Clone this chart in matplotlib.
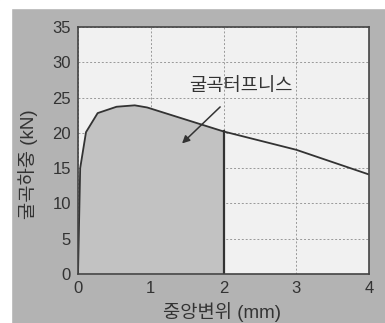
import matplotlib
matplotlib.use("Agg")
from matplotlib import pyplot as plt

plt.rcParams['font.family'] = ['Liberation Sans', 'Noto Sans CJK KR']

# load-deflection curve of the beam
deflection = [0.0, 0.03, 0.11, 0.27, 0.53, 0.78, 0.95, 2.0, 3.0, 4.0]
load = [0.0, 15.0, 20.1, 22.8, 23.7, 23.9, 23.6, 20.2, 17.6, 14.1]
toughness_limit = 2.0  # area up to this deflection is the toughness

xticks = [0, 1, 2, 3, 4]
yticks = [0, 5, 10, 15, 20, 25, 30, 35]

fig = plt.figure(figsize=(3.85, 3.23), dpi=100, facecolor='#b3b3b3')
ax = fig.add_axes([78 / 385, 1 - 274 / 323, 291 / 385, 247 / 323])
ax.set_facecolor('#f1f1f1')

# shaded area under the curve up to 2 mm
xs = [x for x in deflection if x <= toughness_limit]
ys = load[:len(xs)]
ax.fill_between(xs, ys, 0, color='#c2c2c2', zorder=1)
ax.plot([toughness_limit, toughness_limit], [0, ys[-1]], color='#333333', lw=1.6, zorder=3)
ax.plot(deflection, load, color='#333333', lw=1.3, zorder=3)

ax.set_xlim(0, 4)
ax.set_ylim(0, 35)
ax.set_xticks(xticks)
ax.set_yticks(yticks)
ax.grid(True, color='#999999', ls=(0, (2, 2)), lw=0.7, zorder=0)
ax.set_axisbelow(True)
ax.tick_params(length=0, labelsize=12, colors='#333333', pad=5)
for s in ax.spines.values():
    s.set_color('#444444')
    s.set_linewidth(1.2)
    s.set_zorder(4)

ax.set_xlabel('중앙변위 (mm)', fontsize=13.5, color='#333333')
ax.set_ylabel('굴곡하중 (kN)', fontsize=13.5, color='#333333')
ax.xaxis.set_label_coords((222 - 78) / 291, -(312 - 274) / 247)
ax.yaxis.set_label_coords(-(78 - 28) / 291, (274 - 164) / 247)
ax.xaxis.label.set_va('center')
ax.yaxis.label.set_va('center')

ax.annotate('굴곡터프니스', xy=(1.43, 18.5), xytext=(2.24, 26.5),
            fontsize=13.5, color='#333333', ha='center', va='center',
            arrowprops=dict(arrowstyle='-|>', color='#333333', lw=1.1,
                            shrinkA=9, shrinkB=0, mutation_scale=11))

# light margin on the top and left edges
fig.patches.append(plt.Rectangle((0, 1 - 8 / 323), 1, 8 / 323, transform=fig.transFigure,
                                 color='white', zorder=-1))
fig.patches.append(plt.Rectangle((0, 0), 11 / 385, 1, transform=fig.transFigure,
                                 color='white', zorder=-1))

fig.savefig('out.png', dpi=100, facecolor=fig.get_facecolor())
